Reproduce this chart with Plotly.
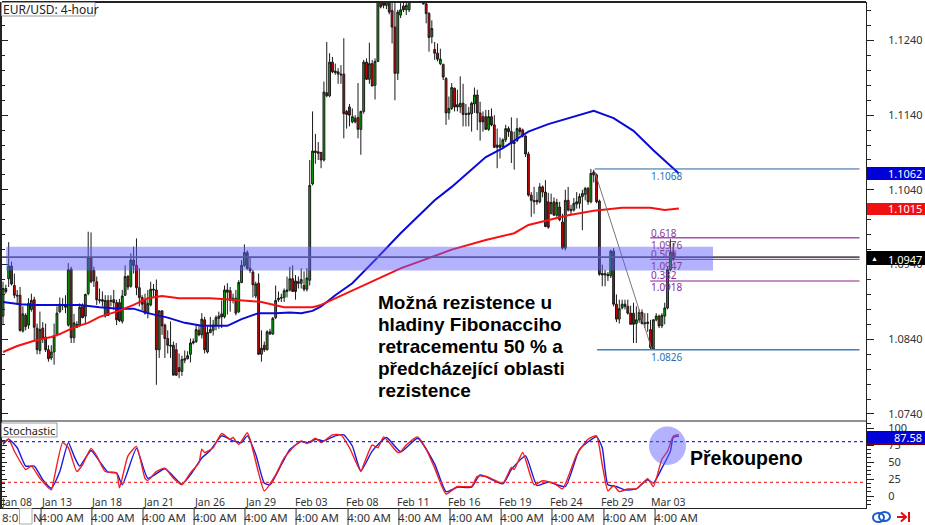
import plotly.graph_objects as go

opens = [1.0871,1.0908,1.0921,1.0938,1.0912,1.0899,1.0899,1.0851,1.0872,1.0859,1.0880,1.0893,1.0855,1.0825,1.0855,1.0843,1.0826,1.0815,1.0823,1.0846,1.0877,1.0886,1.0885,1.0859,1.0934,1.0842,1.0860,1.0859,1.0884,1.0871,
1.0901,1.0950,1.0932,1.0917,1.0893,1.0893,1.0871,1.0892,1.0892,1.0893,1.0889,1.0889,1.0864,1.0899,1.0924,1.0911,1.0946,1.0939,1.0909,1.0896,1.0893,1.0875,1.0886,1.0907,1.0906,1.0826,1.0878,1.0859,1.0841,1.0832,
1.0832,1.0826,1.0802,1.0797,1.0812,1.0814,1.0820,1.0837,1.0837,1.0852,1.0846,1.0866,1.0823,1.0849,1.0852,1.0859,1.0868,1.0874,1.0870,1.0906,1.0905,1.0892,1.0895,1.0877,1.0916,1.0939,1.0956,1.0935,1.0930,1.0898,
1.0915,1.0820,1.0832,1.0826,1.0850,1.0847,1.0869,1.0893,1.0895,1.0896,1.0904,1.0906,1.0921,1.0918,1.0917,1.0915,1.0912,1.0907,
1.0919,1.1048,1.1092,1.1091,1.1090,1.1080,1.1170,1.1166,1.1211,1.1199,1.1198,1.1195,1.1195,1.1145,1.1151,1.1131,1.1136,1.1137,1.1121,1.1145,1.1211,1.1188,1.1209,1.1180,1.1212,1.1300,1.1290,1.1287,1.1292,1.1280,
1.1258,1.1196,1.1274,1.1286,1.1281,1.1281,1.1310,1.1325,1.1335,1.1320,1.1305,1.1289,1.1276,1.1245,1.1228,1.1223,1.1209,1.1208,1.1189,1.1143,1.1149,1.1176,1.1151,1.1151,1.1156,1.1142,1.1143,1.1142,1.1155,1.1167,
1.1143,1.1138,1.1138,1.1121,1.1138,1.1127,1.1100,1.1097,1.1098,1.1107,1.1122,1.1118,1.1102,1.1106,1.1122,1.1120,1.1112,1.1088,1.1033,1.1024,1.1026,1.1024,1.1044,1.1037,1.1024,1.1008,1.1024,1.1006,1.1017,1.0997,
1.0962,1.1026,1.1014,1.1013,1.1021,1.1022,1.1031,1.1034,1.1042,1.1024,1.1064,1.1060,
1.1025,1.0928,1.0926,1.0927,1.0925,1.0958,1.0887,1.0867,1.0882,1.0887,1.0884,1.0875,1.0875,1.0861,1.0866,1.0876,1.0862,1.0861,1.0853,1.0827,1.0866,1.0871,1.0858,1.0871,1.0882,1.0933,1.0956]
highs = [1.0917,1.0913,1.0970,1.0944,1.0928,1.0906,1.0910,1.0884,1.0875,1.0895,1.0901,1.0897,1.0861,1.0877,1.0863,1.0861,1.0832,1.0832,1.0861,1.0884,1.0896,1.0895,1.0899,1.0942,1.0937,1.0874,1.0864,1.0888,1.0888,1.0901,
1.0984,1.0983,1.0937,1.0924,1.0908,1.0904,1.0899,1.0899,1.0899,1.0906,1.0893,1.0894,1.0906,1.0939,1.0926,1.0955,1.0964,1.0975,1.0935,1.0899,1.0901,1.0906,1.0917,1.0914,1.0920,1.0879,1.0879,1.0861,1.0852,1.0864,
1.0837,1.0835,1.0821,1.0818,1.0825,1.0824,1.0841,1.0841,1.0859,1.0859,1.0875,1.0870,1.0857,1.0870,1.0866,1.0872,1.0877,1.0892,1.0912,1.0915,1.0910,1.0901,1.0906,1.0919,1.0946,1.0967,1.0959,1.0949,1.0933,1.0917,
1.0928,1.0852,1.0837,1.0852,1.0854,1.0870,1.0912,1.0904,1.0901,1.0908,1.0924,1.0937,1.0939,1.0926,1.0924,1.0935,1.0931,1.0935,
1.1080,1.1145,1.1115,1.1104,1.1091,1.1185,1.1238,1.1223,1.1218,1.1209,1.1203,1.1207,1.1243,1.1147,1.1155,1.1149,1.1140,1.1183,1.1146,1.1214,1.1216,1.1237,1.1214,1.1216,1.1320,1.1320,1.1310,1.1305,1.1310,1.1290,
1.1290,1.1281,1.1290,1.1300,1.1292,1.1320,1.1340,1.1350,1.1345,1.1330,1.1315,1.1315,1.1278,1.1267,1.1238,1.1236,1.1229,1.1209,1.1191,1.1165,1.1183,1.1177,1.1174,1.1192,1.1182,1.1155,1.1151,1.1158,1.1177,1.1174,
1.1158,1.1145,1.1147,1.1147,1.1149,1.1140,1.1122,1.1110,1.1109,1.1127,1.1125,1.1137,1.1118,1.1136,1.1124,1.1122,1.1113,1.1091,1.1037,1.1044,1.1037,1.1049,1.1046,1.1053,1.1036,1.1035,1.1030,1.1028,1.1024,1.1008,
1.1040,1.1044,1.1020,1.1029,1.1037,1.1035,1.1040,1.1044,1.1044,1.1068,1.1067,1.1062,
1.1027,1.0940,1.0933,1.0930,1.0960,1.0962,1.0900,1.0893,1.0893,1.0893,1.0893,1.0885,1.0889,1.0884,1.0880,1.0880,1.0875,1.0875,1.0866,1.0867,1.0875,1.0873,1.0875,1.0889,1.0938,1.0974,1.0969]
lows = [1.0859,1.0901,1.0910,1.0912,1.0895,1.0886,1.0850,1.0849,1.0852,1.0854,1.0877,1.0837,1.0820,1.0820,1.0835,1.0823,1.0810,1.0812,1.0806,1.0844,1.0875,1.0879,1.0875,1.0857,1.0835,1.0835,1.0855,1.0857,1.0868,1.0861,
1.0899,1.0915,1.0910,1.0886,1.0888,1.0884,1.0869,1.0871,1.0884,1.0879,1.0859,1.0863,1.0861,1.0898,1.0906,1.0909,1.0928,1.0899,1.0884,1.0879,1.0873,1.0868,1.0884,1.0897,1.0779,1.0815,1.0846,1.0815,1.0821,1.0815,
1.0792,1.0791,1.0788,1.0791,1.0808,1.0813,1.0809,1.0833,1.0835,1.0844,1.0841,1.0821,1.0821,1.0848,1.0845,1.0852,1.0854,1.0855,1.0868,1.0873,1.0877,1.0888,1.0872,1.0875,1.0915,1.0937,1.0933,1.0929,1.0896,1.0895,
1.0819,1.0810,1.0823,1.0825,1.0846,1.0846,1.0867,1.0890,1.0890,1.0890,1.0896,1.0904,1.0904,1.0893,1.0908,1.0908,1.0904,1.0904,
1.0912,1.1046,1.1075,1.1080,1.1069,1.1078,1.1164,1.1164,1.1196,1.1194,1.1182,1.1182,1.1109,1.1122,1.1125,1.1129,1.1129,1.1109,1.1087,1.1142,1.1187,1.1182,1.1179,1.1161,1.1211,1.1283,1.1283,1.1282,1.1275,1.1236,
1.1160,1.1187,1.1270,1.1278,1.1274,1.1278,1.1298,1.1310,1.1305,1.1298,1.1288,1.1263,1.1225,1.1236,1.1214,1.1212,1.1207,1.1187,1.1127,1.1134,1.1147,1.1145,1.1145,1.1143,1.1125,1.1125,1.1125,1.1118,1.1143,1.1120,
1.1106,1.1118,1.1121,1.1119,1.1125,1.1096,1.1069,1.1082,1.1096,1.1104,1.1111,1.1076,1.1067,1.1104,1.1113,1.1110,1.1084,1.1031,1.1004,1.1008,1.1020,1.1022,1.1030,1.0990,1.0988,1.1008,1.1006,1.1004,1.0998,1.0960,
1.0959,1.1011,1.1006,1.1011,1.1015,1.1015,1.0986,1.1026,1.1020,1.1022,1.1050,1.1022,
1.0925,1.0911,1.0911,1.0918,1.0922,1.0884,1.0863,1.0861,1.0880,1.0880,1.0873,1.0860,1.0835,1.0835,1.0862,1.0860,1.0855,1.0850,1.0827,1.0826,1.0864,1.0855,1.0855,1.0860,1.0880,1.0931,1.0945]
closes = [1.0908,1.0904,1.0938,1.0914,1.0899,1.0898,1.0852,1.0874,1.0857,1.0888,1.0892,1.0856,1.0826,1.0853,1.0841,1.0826,1.0814,1.0823,1.0844,1.0875,1.0887,1.0885,1.0883,1.0933,1.0842,1.0862,1.0856,1.0883,1.0869,1.0900,
1.0950,1.0917,1.0918,1.0893,1.0892,1.0891,1.0892,1.0872,1.0891,1.0889,1.0866,1.0865,1.0898,1.0924,1.0910,1.0946,1.0939,1.0909,1.0896,1.0887,1.0875,1.0888,1.0907,1.0906,1.0826,1.0878,1.0858,1.0841,1.0832,1.0831,
1.0792,1.0792,1.0797,1.0813,1.0814,1.0818,1.0835,1.0835,1.0853,1.0846,1.0867,1.0826,1.0849,1.0853,1.0859,1.0869,1.0871,1.0870,1.0906,1.0903,1.0892,1.0895,1.0875,1.0916,1.0939,1.0956,1.0935,1.0932,1.0913,1.0914,
1.0820,1.0828,1.0826,1.0850,1.0847,1.0868,1.0892,1.0895,1.0896,1.0905,1.0906,1.0921,1.0904,1.0904,1.0915,1.0920,1.0907,1.0922,
1.1046,1.1092,1.1090,1.1089,1.1080,1.1171,1.1166,1.1211,1.1198,1.1197,1.1195,1.1194,1.1142,1.1141,1.1140,1.1138,1.1131,1.1121,1.1145,1.1211,1.1188,1.1209,1.1179,1.1212,1.1300,1.1285,1.1287,1.1292,1.1278,1.1258,
1.1196,1.1278,1.1281,1.1281,1.1287,1.1310,1.1325,1.1335,1.1320,1.1305,1.1289,1.1276,1.1244,1.1256,1.1223,1.1215,1.1215,1.1191,1.1143,1.1149,1.1177,1.1151,1.1154,1.1156,1.1141,1.1141,1.1141,1.1156,1.1167,1.1143,
1.1131,1.1131,1.1121,1.1138,1.1127,1.1097,1.1097,1.1100,1.1107,1.1122,1.1118,1.1102,1.1104,1.1122,1.1118,1.1112,1.1088,1.1033,1.1026,1.1026,1.1024,1.1044,1.1037,1.0991,1.0990,1.1023,1.1006,1.1023,1.1000,1.0962,
1.1026,1.1013,1.1012,1.1022,1.1024,1.1031,1.1035,1.1042,1.1024,1.1062,1.1060,1.1024,
1.0927,1.0926,1.0928,1.0925,1.0958,1.0887,1.0867,1.0881,1.0887,1.0884,1.0875,1.0860,1.0860,1.0866,1.0876,1.0861,1.0861,1.0863,1.0829,1.0866,1.0871,1.0858,1.0872,1.0882,1.0933,1.0956,1.0947]
n = min(len(opens), len(highs), len(lows), len(closes))
candle_index = list(range(n))

blue_ma_index = [0,6,11,23,27,34,41,46,51,58,64,70,79,84,90,96,101,105,109,112,117,123,127,131,140,146,152,158,164,170,176,185,192,199,208,215,222,229,238]
blue_ma = [1.0890,1.0887,1.0886,1.0886,1.0886,1.0883,1.0881,1.0881,1.0875,1.0869,1.0862,1.0858,1.0858,1.0867,1.0875,1.0875,1.0876,1.0875,1.0878,1.0884,1.0899,1.0915,1.0930,1.0946,1.0982,1.1004,1.1026,1.1044,1.1064,1.1084,1.1096,1.1118,1.1128,1.1136,1.1146,1.1136,1.1119,1.1093,1.1062]

red_ma_index = [0,5,11,17,20,25,30,34,40,46,51,56,62,73,81,91,99,109,112,119,126,133,140,148,158,170,180,185,192,199,208,218,228,233,238]
red_ma = [1.0823,1.0831,1.0838,1.0843,1.0847,1.0856,1.0862,1.0870,1.0877,1.0886,1.0895,1.0898,1.0895,1.0895,1.0893,1.0890,1.0883,1.0883,1.0886,1.0898,1.0910,1.0923,1.0935,1.0946,1.0960,1.0973,1.0982,1.0993,1.0999,1.1006,1.1012,1.1016,1.1016,1.1013,1.1015]

k_index = [0,2,4,8,10,13,17,18,21,23,26,28,31,33,36,40,41,44,47,50,51,54,57,60,63,66,69,70,71,74,77,80,81,83,86,87,90,92,96,99,103,105,107,110,112,116,119,122,126,127,130,132,134,136,139,140,142,146,149,152,156,160,165,167,170,176,179,180,183,187,190,194,197,202,206,209,211,213,215,217,220,223,227,229,232,234,236,238]
k_vals = [78.5,83.5,66,39,44,26,9,26,78.5,71,36,46,70,59,36,34,12,59,73,26,23,36,41,26,16.5,34,49,69,64,71,92,83.5,86,76,93,83.5,34,7.5,31,56,75,81,77,85,78.5,90,90,71,36,46,75,71,87,78.5,64,65,75,87,69,41,3,14,14,29,29,19,42,39,64,16.5,22.5,19,10.5,61,83.5,88.5,46,7.5,15.5,6.5,10.5,10.5,25.5,14,54,66,88,90]
d_index = [0,2,5,8,11,14,17,20,23,25,27,31,34,37,40,42,47,51,57,63,66,70,73,77,81,84,86,89,92,94,98,101,105,108,110,113,117,120,123,126,130,135,140,146,152,156,160,165,168,176,179,184,188,192,198,203,209,211,213,216,219,223,227,229,232,235,236,238]
d_vals = [76,83.5,71,44,44,24,11.5,36,78.5,59,44,67,51,35,34,16.5,70,26,40,17.5,31,56,67,88.5,81,78.5,88.5,61,19,16.5,46,68.5,80,78.5,83.5,81,88.5,90,73.5,37,66,86,65,85,47,6.5,13,13,31,18,39,59,15.5,20.5,14,68.5,87,71,16.5,14,9,10.5,24,19,41,66,86,88]

fib_levels = [1.1068, 1.0976, 1.0947, 1.0918, 1.0826]
fib_colors = ["#2a64a0", "#a850a8", "#8c2c96", "#8c1c8c", "#3f7fbf"]
stoch_ticks = [0, 25, 50, 75, 100]
date_labels = ["Jan 08","Jan 13","Jan 18","Jan 21","Jan 26","Jan 29","Feb 03","Feb 08","Feb 11","Feb 16","Feb 19","Feb 24","Feb 29","Mar 03"]
date_pos = [4.6,18.7,36.6,54.6,72.6,90.5,108.5,126.5,144.4,162.4,180.4,198.3,216.3,234.3]
sep_pos = [13.4,31.3,49.3,67.3,85.2,103.2,121.5,139.4,157.4,175.4,193.3,211.6,229.6]
time_pos = [20.8,38.7,56.7,74.7,92.6,110.6,128.9,146.8,164.8,182.8,200.7,219.0,237.0]
time_labels = ["4:00 AM"] * len(time_pos)
comment_lines = ["Možná rezistence u", "hladiny Fibonacciho", "retracementu 50 % a", "předcházející oblasti", "rezistence"]
comment_y = [302, 324, 346, 368, 390]

W, H = 925, 525
L, R, T, B = 2, 866, 2, 508
px = lambda v: (v - L) / (R - L)
py = lambda v: (B - v) / (B - T)
FONT = "Noto Sans"
TXT = "#333333"
BAND = "rgba(92,92,255,0.47)"

fig = go.Figure()
fig.add_trace(go.Candlestick(
    x=candle_index[:n], open=opens[:n], high=highs[:n], low=lows[:n], close=closes[:n],
    xaxis="x", yaxis="y", whiskerwidth=0,
    increasing=dict(line=dict(color="#1a1a1a", width=1), fillcolor="#00b000"),
    decreasing=dict(line=dict(color="#1a1a1a", width=1), fillcolor="#d40000"),
    showlegend=False, hoverinfo="skip"))
fig.add_trace(go.Scatter(x=blue_ma_index, y=blue_ma, mode="lines", line=dict(color="#0a0ad8", width=2), xaxis="x", yaxis="y3", showlegend=False, hoverinfo="skip"))
fig.add_trace(go.Scatter(x=red_ma_index, y=red_ma, mode="lines", line=dict(color="#f81010", width=2), xaxis="x", yaxis="y3", showlegend=False, hoverinfo="skip"))
fig.add_trace(go.Scatter(x=k_index, y=k_vals, mode="lines", line=dict(color="#f02020", width=1.4, shape="spline", smoothing=0.5), xaxis="x2", yaxis="y4", showlegend=False, hoverinfo="skip"))
fig.add_trace(go.Scatter(x=d_index, y=d_vals, mode="lines", line=dict(color="#1818e0", width=1.4, shape="spline", smoothing=0.5), xaxis="x2", yaxis="y2", showlegend=False, hoverinfo="skip"))

xr = [-0.352, 303.87]
yr = [1.07306, 1.12915]
sr = [-17.6, 110.3]
tick = dict(ticks="outside", tickcolor="#222222", ticklen=7, tickwidth=1, showgrid=False, zeroline=False, showline=True, linecolor="#222222", linewidth=1)
layout = dict(
    width=W, height=H, margin=dict(l=L, r=W - R, t=T, b=H - B, autoexpand=False),
    paper_bgcolor="white", plot_bgcolor="white", font=dict(family=FONT, size=11, color=TXT),
    dragmode=False, boxgap=0.08, showlegend=False,
    xaxis=dict(domain=[0, 1], range=xr, anchor="y", showticklabels=False, ticks="", showgrid=False, zeroline=False, rangeslider=dict(visible=False), showline=False),
    xaxis2=dict(domain=[0, 1], range=xr, anchor="y2", tickmode="array", tickvals=time_pos, ticktext=time_labels, ticks="", showgrid=False, zeroline=False, showline=True, linecolor="#222222", linewidth=1,
                ticklabelstandoff=-1, tickfont=dict(family=FONT, size=11.5, color="#333333")),
    yaxis=dict(domain=[py(421), 1], range=yr, side="right", anchor="x", tick0=1.074, dtick=0.01, tickformat=".4f", ticklabelstandoff=12,
               minor=dict(dtick=0.002, tick0=1.074, ticks="outside", ticklen=4, tickcolor="#222222", showgrid=False), **tick),
    yaxis3=dict(range=yr, overlaying="y", side="left", anchor="x", tick0=1.074, dtick=0.01, showticklabels=False, ticks="inside", ticklen=6, tickcolor="#222222",
                minor=dict(dtick=0.002, tick0=1.074, ticks="inside", ticklen=3, tickcolor="#222222", showgrid=False),
                showgrid=False, zeroline=False, showline=True, linecolor="#222222", linewidth=2),
    yaxis2=dict(domain=[0, py(421)], range=sr, side="right", anchor="x2", tickmode="array", tickvals=stoch_ticks, ticklabelstandoff=12,
                minor=dict(dtick=6.25, tick0=0, ticks="outside", ticklen=4, tickcolor="#222222", showgrid=False), **tick),
    yaxis4=dict(range=sr, overlaying="y2", side="left", anchor="x2", tickmode="array", tickvals=stoch_ticks, showticklabels=False, ticks="inside", ticklen=5, tickcolor="#222222",
                minor=dict(dtick=6.25, tick0=0, ticks="inside", ticklen=3, tickcolor="#222222", showgrid=False),
                showgrid=False, zeroline=False, showline=True, linecolor="#222222", linewidth=2),
)
shapes, ann = [], []

def hline(x0, x1, y, color, width, xref="x", yref="y", dash="solid"):
    shapes.append(dict(type="line", xref=xref, yref=yref, x0=x0, x1=x1, y0=y, y1=y, line=dict(color=color, width=width, dash=dash), layer="above"))

def text(x, y, s, size=10, color=TXT, family=FONT, xanchor="left", yanchor="middle", xref="paper", yref="paper", bold=False):
    ann.append(dict(x=x, y=y, xref=xref, yref=yref, text=f"<b>{s}</b>" if bold else s, showarrow=False, xanchor=xanchor, yanchor=yanchor,
                    font=dict(family=family, size=size, color=color), align="left", borderpad=0, borderwidth=0))

def rect(x0, x1, y0, y1, fill, line=None):
    shapes.append(dict(type="rect", xref="paper", yref="paper", x0=px(x0), x1=px(x1), y0=py(y0), y1=py(y1), fillcolor=fill,
                       line=dict(color=line or fill, width=1 if line else 0), layer="above"))

# frame
hline(0, 1, 1, "#222222", 2, xref="paper", yref="paper")
hline(0, 1, py(421), "#222222", 1, xref="paper", yref="paper")

# levels in the stochastic panel
hline(xr[0], xr[1], 80, "#2c2cd0", 1.2, xref="x2", yref="y2", dash="3px,3px")
hline(xr[0], xr[1], 20, "#e83c3c", 1.2, xref="x2", yref="y2", dash="3px,3px")

# fibonacci
hline(208.4, 301.6, fib_levels[0], fib_colors[0], 1)
hline(227.9, 301.6, fib_levels[1], fib_colors[1], 1.6)
hline(227.9, 301.6, fib_levels[2], fib_colors[2], 1)
hline(227.9, 301.6, fib_levels[3], fib_colors[3], 1)
hline(209.2, 301.6, fib_levels[4], fib_colors[4], 1.4)
shapes.append(dict(type="line", xref="x", yref="y", x0=208.4, x1=228.5, y0=1.1064, y1=fib_levels[4], line=dict(color="#777777", width=1), layer="above"))

# price line and band
hline(xr[0], 301.6, 1.0950, "#555555", 1.6)
shapes.append(dict(type="rect", xref="x", yref="y", x0=1.1, x1=250, y0=1.0932, y1=1.0964, fillcolor=BAND, line=dict(width=0), layer="above"))
shapes.append(dict(type="circle", xref="paper", yref="paper", x0=px(649), x1=px(686), y0=py(465), y1=py(426.5), fillcolor=BAND, line=dict(width=0), layer="above"))

# fib texts
fx = px(650.5)
text(fx, py(176), "1.1068", color="#2a70b0")
text(fx, py(233), "0.618", color="#8a3a9a")
text(fx, py(245), "1.0976", color="#8a3a9a")
text(fx, py(254), "0.500", color="#8a3a9a")
text(fx, py(266), "1.0947", color="#8a3a9a")
text(fx, py(275), "0.382", color="#8a2a9a")
text(fx, py(287), "1.0918", color="#8a2a9a")
text(fx, py(357), "1.0826", color="#2a70b0")

# value tags
rect(867, 925, 167, 180, "#0000d8")
rect(867, 925, 203, 215, "#f01010")
rect(867, 925, 251, 265, "#000000")
rect(867, 925, 431, 443, "#0000d8")
rect(867, 925, 443, 445, "#7a0000")
text(px(921.5), py(173.5), "1.1062", size=11, color="white", xanchor="right")
text(px(921.5), py(209), "1.1015", size=11, color="white", xanchor="right")
text(px(921.5), py(259), "1.0947", size=11, color="white", xanchor="right")
text(px(921.5), py(437.5), "87.58", size=11, color="white", xanchor="right")
text(px(871), py(258), "▲", size=7, color="white")

# indicator labels
rect(1.5, 95, 2.5, 16, "#ffffff", "#999999")
text(px(2.5), py(9), "EUR/USD: 4-hour", size=12, color="#222222")
rect(1.5, 57, 423, 437, "#ffffff", "#999999")
text(px(2.5), py(430), "Stochastic", size=11, color="#222222")

# date labels
for p, s in zip(date_pos, date_labels):
    text(p, py(502), s, size=10.5, color="#333333", xanchor="center", xref="x2")

# bottom row
for p in sep_pos:
    shapes.append(dict(type="line", xref="x2", yref="paper", x0=p, x1=p, y0=py(508), y1=py(525), line=dict(color="#333333", width=1), layer="above"))
text(px(2), py(517), "8:0", size=11.5, color="#333333")
rect(19.5, 32, 508.5, 524, "#ffffff", "#aaaaaa")
text(px(33), py(517), "N", size=11.5, color="#333333")

# commentary
for line, yy in zip(comment_lines, comment_y):
    text(px(378), py(yy), line, size=19, color="#000000", family="Liberation Sans", bold=True)
text(px(689.5), py(458), "Překoupeno", size=19.5, color="#000000", family="Liberation Sans", bold=True)

# link and jump icons
shapes.append(dict(type="circle", xref="paper", yref="paper", x0=px(873), x1=px(884), y0=py(522), y1=py(513), line=dict(color="#1a5ad0", width=2), layer="above"))
shapes.append(dict(type="circle", xref="paper", yref="paper", x0=px(879), x1=px(890), y0=py(521), y1=py(512), line=dict(color="#1a5ad0", width=2), layer="above"))
shapes.append(dict(type="line", xref="paper", yref="paper", x0=px(897), x1=px(906), y0=py(517), y1=py(517), line=dict(color="#e01010", width=2), layer="above"))
shapes.append(dict(type="path", xref="paper", yref="paper", path=f"M {px(901)} {py(512.5)} L {px(906)} {py(517)} L {px(901)} {py(521.5)}", line=dict(color="#e01010", width=2), layer="above"))
shapes.append(dict(type="line", xref="paper", yref="paper", x0=px(909), x1=px(909), y0=py(512), y1=py(522), line=dict(color="#e01010", width=2), layer="above"))

fig.update_layout(**layout, shapes=shapes, annotations=ann)
fig.write_html("out.html", config=dict(displayModeBar=False, responsive=False),
               post_script="document.documentElement.style.overflow='hidden';document.body.style.overflow='hidden';document.body.style.margin='0';")
